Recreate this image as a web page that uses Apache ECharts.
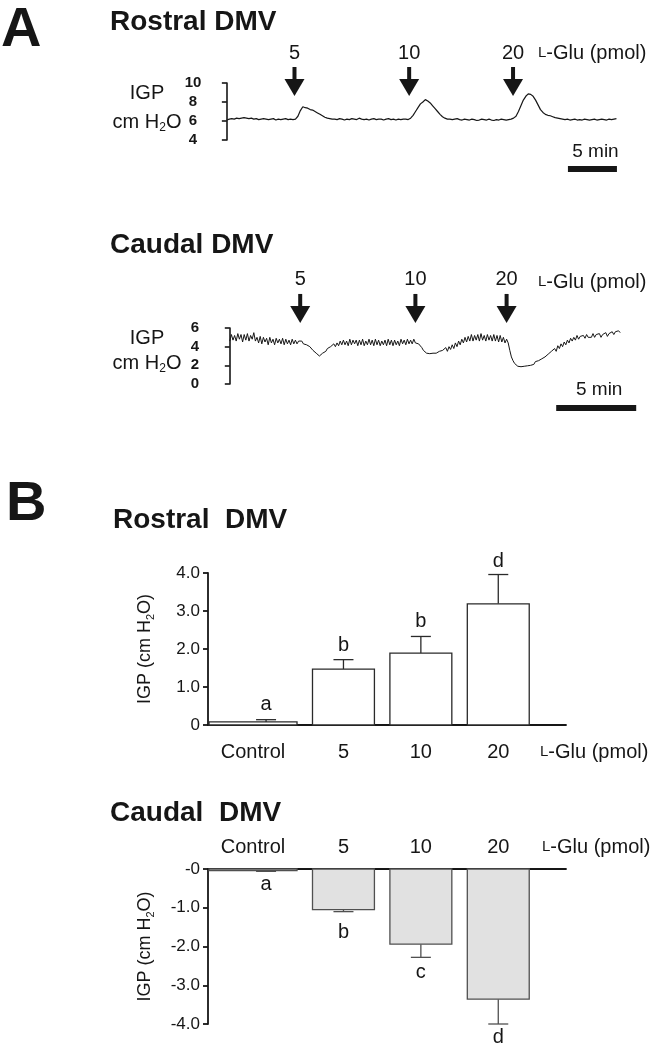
<!DOCTYPE html>
<html><head><meta charset="utf-8">
<script src="https://cdn.jsdelivr.net/npm/echarts@6/dist/echarts.min.js"></script>
<style>html,body{margin:0;padding:0;background:#fff}#c{width:670px;height:1050px}</style>
</head><body><div id="c"></div>
<script>
// ================= DATA =================
const doses = ['5', '10', '20'];
const rostralInjectTimes = [6.9, 18.6, 29.2];   // min
const caudalInjectTimes = [4.4, 11.6, 17.3];    // min
const rostralStep = 0.25;                        // min per sample
const rostralTrace = [
  6.1, 6.2, 6.25, 6.2, 6.3, 6.25, 6.3, 6.35, 6.3, 6.25,
  6.3, 6.2, 6.25, 6.15, 6.2, 6.25, 6.2, 6.15, 6.2, 6.25,
  6.1, 6.2, 6.15, 6.2, 6.25, 6.15, 6.2, 6.15,
  6.2, 6.5, 7.1, 7.5, 7.4, 7.35, 7.2, 7.15, 7.0, 6.85, 6.7, 6.55, 6.4, 6.3, 6.25, 6.2,
  6.2, 6.15, 6.25, 6.2, 6.1, 6.2, 6.15, 6.25, 6.2, 6.15,
  6.3, 6.2, 6.15, 6.2, 6.1, 6.2, 6.25, 6.15, 6.2, 6.2,
  6.1, 6.2, 6.25, 6.15, 6.2, 6.1, 6.2, 6.15, 6.2,
  6.2, 6.15, 6.3, 6.6, 7.0, 7.4, 7.8, 8.0, 8.25, 8.1, 7.9, 7.6, 7.3, 7.0, 6.7, 6.45, 6.3, 6.2,
  6.2, 6.15, 6.2, 6.25, 6.15, 6.1, 6.2, 6.15, 6.1, 6.2,
  6.15, 6.05, 6.1, 6.2, 6.15, 6.1, 6.2, 6.1, 6.05, 6.15,
  6.1, 6.2, 6.15, 6.1, 6.15, 6.2,
  6.3, 6.5, 7.0, 7.6, 8.2, 8.6, 8.85, 8.8, 8.6, 8.2, 7.7, 7.2, 6.9, 6.7, 6.6, 6.55, 6.45, 6.35, 6.3,
  6.25, 6.2, 6.15, 6.2, 6.1, 6.15, 6.2, 6.1, 6.15, 6.1, 6.2, 6.15, 6.1, 6.15, 6.2, 6.1, 6.15, 6.2, 6.15, 6.1, 6.2, 6.15, 6.2, 6.25
];
const caudalStep = 0.1;                          // min per sample
const caudalTrace = [
  4.6, 5.3, 4.7, 5.2, 4.6, 5.4, 4.8, 5.3, 4.5, 5.3,
  4.7, 5.4, 4.6, 5.2, 4.8, 5.5, 4.6, 5.0, 4.4, 5.1,
  4.3, 5.0, 4.5, 4.9, 4.2, 5.0, 4.4, 4.8, 4.2, 4.9,
  4.4, 4.8, 4.3, 4.9, 4.2, 4.8, 4.3, 4.7, 4.2, 4.8,
  4.3, 4.7, 4.3, 4.6, 4.4, 4.6, 4.3, 4.5, 4.2, 4.3,
  4.0, 3.9, 3.6, 3.5, 3.3, 3.2, 3.0, 3.1, 3.3, 3.4,
  3.5, 3.8, 3.7, 4.0, 3.9, 4.3, 4.0, 4.4, 4.1, 4.6,
  4.2, 4.7, 4.2, 4.6, 4.1, 4.8, 4.2, 4.7, 4.3, 4.7,
  4.1, 4.7, 4.2, 4.8, 4.1, 4.6, 4.2, 4.8, 4.2, 4.7,
  4.1, 4.8, 4.2, 4.7, 4.1, 4.6, 4.2, 4.7, 4.1, 4.8,
  4.2, 4.7, 4.1, 4.7, 4.2, 4.6, 4.1, 4.8, 4.3, 4.7,
  4.2, 4.8, 4.3, 4.7, 4.3, 4.8, 4.4, 4.6, 4.3, 4.2,
  3.9, 3.6, 3.4, 3.3, 3.2, 3.25, 3.1, 3.3, 3.1, 3.3,
  3.2, 3.5, 3.3, 3.6, 3.4, 3.9, 3.5, 4.0, 3.7, 4.2,
  3.8, 4.4, 4.0, 4.6, 4.2, 4.8, 4.4, 5.0, 4.5, 5.1,
  4.6, 5.3, 4.6, 5.2, 4.7, 5.3, 4.6, 5.4, 4.7, 5.2,
  4.6, 5.3, 4.7, 5.2, 4.6, 5.3, 4.6, 5.2, 4.5, 5.2,
  4.5, 5.0, 4.4, 4.8, 4.4, 3.6, 2.9, 2.5, 2.2, 2.0,
  1.9, 1.95, 1.85, 2.0, 1.9, 2.05, 1.95, 2.1, 2.0, 2.2,
  2.1, 2.4, 2.2, 2.5, 2.4, 2.7, 2.5, 2.9, 2.8, 3.2,
  3.0, 3.5, 3.3, 3.8, 3.5, 4.1, 3.8, 4.3, 4.0, 4.5,
  4.2, 4.7, 4.4, 4.9, 4.6, 5.0, 4.7, 5.2, 4.8, 5.1,
  4.9, 5.2, 4.9, 5.3, 5.0, 5.2, 5.0, 5.4, 5.0, 5.3,
  5.1, 5.4, 5.0, 5.3, 5.2, 5.5, 5.1, 5.4, 5.3, 5.6,
  5.3, 5.6, 5.4, 5.7, 5.5
];
const scaleBarMinutes = 5;
const rostralScaleStart = 34.8;
const caudalScaleStart = 20.4;

const categories = ['Control', '5', '10', '20'];
const rostralMean = [0.08, 1.47, 1.89, 3.19];
const rostralErrEnd = [0.14, 1.72, 2.33, 3.96];
const rostralLetters = ['a', 'b', 'b', 'd'];
const rostralLetterAt = [0.53, 2.1, 2.73, 4.29];
const caudalMean = [-0.04, -1.05, -1.94, -3.36];
const caudalErrEnd = [-0.06, -1.1, -2.28, -4.0];
const caudalLetters = ['a', 'b', 'c', 'd'];
const caudalLetterAt = [-0.41, -1.65, -2.68, -4.36];
const rostralBarTicks = ['0', '1.0', '2.0', '3.0', '4.0'];
const caudalBarTicks = ['-0', '-1.0', '-2.0', '-3.0', '-4.0'];

// ================= STYLE =================
const FF = '"Liberation Sans", Arial, sans-serif';
const INK = '#161616';
const chart = echarts.init(document.getElementById('c'), null, {renderer: 'canvas'});

function arrowRender(tipValue) {
  return function (params, api) {
    const p = api.coord([api.value(0), tipValue]);
    const x = p[0], tip = p[1];
    return {type: 'group', children: [
      {type: 'polygon', shape: {points: [[x - 10, tip - 17], [x + 10, tip - 17], [x, tip]]}, style: {fill: INK}},
      {type: 'rect', shape: {x: x - 2, y: tip - 29, width: 4, height: 13}, style: {fill: INK}},
      {type: 'text', x: x, y: tip - 43, style: {text: doses[params.dataIndex], font: '20px ' + FF, fill: INK, align: 'center', verticalAlign: 'middle'}}
    ]};
  };
}
function scaleRender(yMin, barOff, textOff) {
  return function (params, api) {
    const s = api.value(0);
    const p0 = api.coord([s, yMin]), p1 = api.coord([s + scaleBarMinutes, yMin]);
    return {type: 'group', children: [
      {type: 'rect', shape: {x: p0[0], y: p0[1] + barOff - 3, width: p1[0] - p0[0], height: 6}, style: {fill: INK}},
      {type: 'text', x: (p0[0] + p1[0]) / 2 + 3, y: p0[1] + textOff, style: {text: scaleBarMinutes + ' min', font: '19px ' + FF, fill: INK, align: 'center', verticalAlign: 'middle'}}
    ]};
  };
}
function barRender(means, errs, letters, letterAt, labelOff, fill, stroke) {
  return function (params, api) {
    const i = api.value(0);
    const c0 = api.coord([i, 0]);
    const cm = api.coord([i, means[i]]);
    const ce = api.coord([i, errs[i]]);
    const cl = api.coord([i, letterAt[i]]);
    const half = api.size([0.8, 0])[0] / 2;
    let left = c0[0] - half;
    const right = c0[0] + half;
    if (i === 0) left = params.coordSys.x + 1;
    const top = Math.min(c0[1], cm[1]);
    const h = Math.max(Math.abs(cm[1] - c0[1]), 1.5);
    return {type: 'group', children: [
      {type: 'line', shape: {x1: c0[0], y1: cm[1], x2: c0[0], y2: ce[1]}, style: {stroke: stroke, lineWidth: 1.3}},
      {type: 'line', shape: {x1: c0[0] - 10, y1: ce[1], x2: c0[0] + 10, y2: ce[1]}, style: {stroke: stroke, lineWidth: 1.3}},
      {type: 'rect', shape: {x: left, y: top, width: right - left, height: h}, style: {fill: fill, stroke: stroke, lineWidth: 1.3}},
      {type: 'text', x: c0[0], y: cl[1], style: {text: letters[i], font: '20px ' + FF, fill: INK, align: 'center', verticalAlign: 'middle'}},
      {type: 'text', x: (left + right) / 2, y: c0[1] + labelOff, style: {text: categories[i], font: '20px ' + FF, fill: INK, align: 'center', verticalAlign: 'middle'}}
    ]};
  };
}

const axisLine = {show: true, onZero: false, lineStyle: {color: INK, width: 1.8}};
const traceY = (min, max, margin) => ({
  type: 'value', min: min, max: max, interval: 2,
  axisLine: {show: true, lineStyle: {color: INK, width: 1.6}},
  axisTick: {show: true, length: 5, lineStyle: {color: INK, width: 1.6}},
  axisLabel: {margin: margin, align: 'center', fontFamily: FF, fontWeight: 'bold', fontSize: 15, color: INK},
  splitLine: {show: false}
});
const nameRich = {
  n: {fontFamily: FF, fontSize: 18, color: INK, lineHeight: 22},
  s: {fontFamily: FF, fontSize: 11, color: INK, lineHeight: 12, verticalAlign: 'bottom'}
};
const barY = (min, max, ticks, sign) => ({
  type: 'value', min: min, max: max, interval: 1,
  axisLine: axisLine,
  axisTick: {show: true, length: 5, lineStyle: {color: INK, width: 1.8}},
  axisLabel: {margin: 8, fontFamily: FF, fontSize: 17, color: INK, formatter: v => ticks[Math.round(sign * v)]},
  splitLine: {show: false},
  name: '{n|IGP (cm H}{s|2}{n|O)}', nameLocation: 'middle', nameGap: 52, nameRotate: 90,
  nameTextStyle: {rich: nameRich}
});
const barX = (pos) => ({
  type: 'value', min: -0.75, max: 3.875, position: pos,
  axisLine: axisLine, axisTick: {show: false}, axisLabel: {show: false}, splitLine: {show: false}
});
const glu = {n: {fontFamily: FF, fontSize: 20, color: INK}, sc: {fontFamily: FF, fontSize: 15, color: INK}};
function txt(x, y, text, font, extra) {
  return {type: 'text', x: x, y: y, style: Object.assign({text: text, font: font, fill: INK, align: 'left', verticalAlign: 'middle'}, extra || {})};
}
const igpRich = {
  n: {fontFamily: FF, fontSize: 20, color: INK, lineHeight: 24},
  s: {fontFamily: FF, fontSize: 12, color: INK, lineHeight: 12, verticalAlign: 'bottom'}
};

const option = {
  animation: false,
  backgroundColor: '#fff',
  grid: [
    {left: 220, top: 83, width: 398.9, height: 57},
    {left: 217, top: 328, width: 406.4, height: 56},
    {left: 208, top: 573, width: 358, height: 152},
    {left: 208, top: 869, width: 358, height: 155}
  ],
  xAxis: [
    {gridIndex: 0, type: 'value', min: -0.7, max: 40, show: false},
    {gridIndex: 1, type: 'value', min: -0.8, max: 24.6, show: false},
    Object.assign({gridIndex: 2}, barX('bottom')),
    Object.assign({gridIndex: 3}, barX('top'))
  ],
  yAxis: [
    Object.assign({gridIndex: 0}, traceY(4, 10, 27)),
    Object.assign({gridIndex: 1}, traceY(0, 6, 22)),
    Object.assign({gridIndex: 2}, barY(0, 4, rostralBarTicks, 1)),
    Object.assign({gridIndex: 3}, barY(-4, 0, caudalBarTicks, -1))
  ],
  series: [
    {type: 'line', xAxisIndex: 0, yAxisIndex: 0, showSymbol: false, symbol: 'none',
     lineStyle: {color: INK, width: 1.2}, data: rostralTrace.map((v, i) => [i * rostralStep, v])},
    {type: 'custom', xAxisIndex: 0, yAxisIndex: 0, clip: false, renderItem: arrowRender(8.63),
     data: rostralInjectTimes.map(t => [t])},
    {type: 'custom', xAxisIndex: 0, yAxisIndex: 0, clip: false, renderItem: scaleRender(4, 29, 12),
     data: [[rostralScaleStart]]},
    {type: 'line', xAxisIndex: 1, yAxisIndex: 1, showSymbol: false, symbol: 'none',
     lineStyle: {color: INK, width: 1.0}, data: caudalTrace.map((v, i) => [i * caudalStep, v])},
    {type: 'custom', xAxisIndex: 1, yAxisIndex: 1, clip: false, renderItem: arrowRender(6.54),
     data: caudalInjectTimes.map(t => [t])},
    {type: 'custom', xAxisIndex: 1, yAxisIndex: 1, clip: false, renderItem: scaleRender(0, 24, 6),
     data: [[caudalScaleStart]]},
    {type: 'custom', xAxisIndex: 2, yAxisIndex: 2, clip: false,
     renderItem: barRender(rostralMean, rostralErrEnd, rostralLetters, rostralLetterAt, 27, '#ffffff', '#2a2a2a'),
     data: categories.map((c, i) => [i])},
    {type: 'custom', xAxisIndex: 3, yAxisIndex: 3, clip: false,
     renderItem: barRender(caudalMean, caudalErrEnd, caudalLetters, caudalLetterAt, -22, '#e1e1e1', '#505050'),
     data: categories.map((c, i) => [i])}
  ],
  graphic: [
    txt(1, 31, 'A', 'bold 56px ' + FF),
    txt(110, 22, 'Rostral DMV', 'bold 28px ' + FF),
    txt(110, 245, 'Caudal DMV', 'bold 28px ' + FF),
    txt(6, 505, 'B', 'bold 56px ' + FF),
    txt(113, 520, 'Rostral  DMV', 'bold 28px ' + FF),
    txt(110, 813, 'Caudal  DMV', 'bold 28px ' + FF),
    txt(538, 53, '{sc|L}{n|-Glu (pmol)}', '20px ' + FF, {rich: glu}),
    txt(538, 282, '{sc|L}{n|-Glu (pmol)}', '20px ' + FF, {rich: glu}),
    txt(540, 752, '{sc|L}{n|-Glu (pmol)}', '20px ' + FF, {rich: glu}),
    txt(542, 847, '{sc|L}{n|-Glu (pmol)}', '20px ' + FF, {rich: glu}),
    txt(147, 93, 'IGP', '20px ' + FF, {align: 'center'}),
    txt(147, 122, '{n|cm H}{s|2}{n|O}', '20px ' + FF, {align: 'center', rich: igpRich}),
    txt(147, 338, 'IGP', '20px ' + FF, {align: 'center'}),
    txt(147, 363, '{n|cm H}{s|2}{n|O}', '20px ' + FF, {align: 'center', rich: igpRich})
  ]
};
chart.setOption(option);
</script>
</body></html>
